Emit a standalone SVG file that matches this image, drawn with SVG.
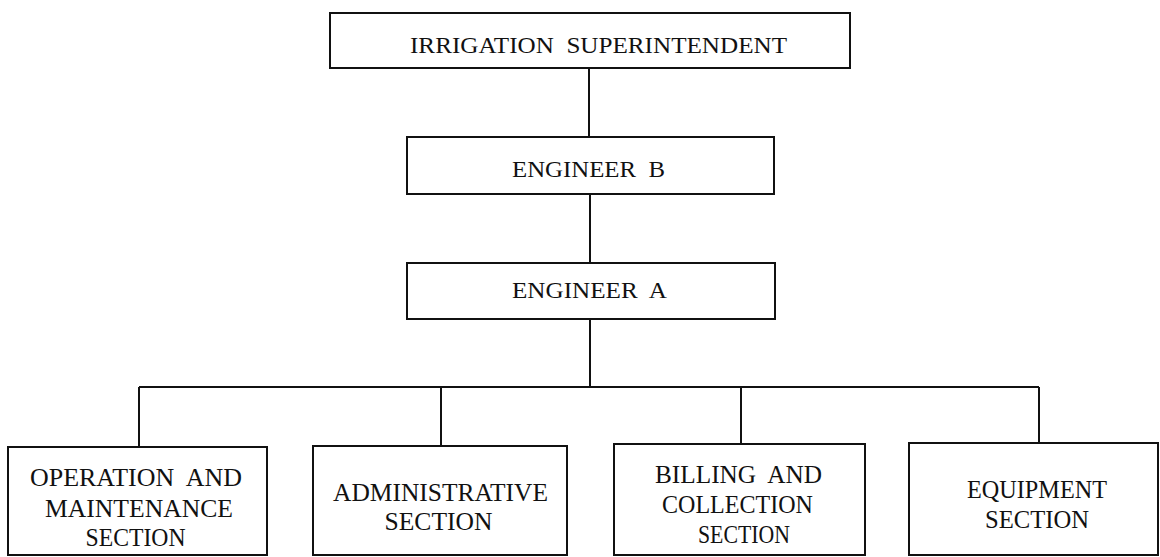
<svg xmlns="http://www.w3.org/2000/svg" width="1160" height="557" viewBox="0 0 1160 557">
<style>
.box{fill:#fff;stroke:#111;stroke-width:2}
.conn{fill:none;stroke:#111;stroke-width:2}
text{font-family:"Liberation Serif","Times New Roman",serif;fill:#111;text-anchor:middle}
.t1{font-size:23.5px}
.t2{font-size:26px}
</style>
<rect width="1160" height="557" fill="#fff"/>
<g id="connectors">
<path class="conn" d="M589 68V137M590 194V263M590 319V387M139 387H1039M139 387V447M441 387V446M741 387V444M1039 387V443"/>
</g>
<g id="irrigation-superintendent">
<rect class="box" x="330" y="13" width="520" height="55"/>
<text class="t1" x="598.5" y="53" textLength="377" lengthAdjust="spacingAndGlyphs">IRRIGATION&#160; SUPERINTENDENT</text>
</g>
<g id="engineer-b">
<rect class="box" x="407" y="137" width="367" height="57"/>
<text class="t1" x="588.5" y="177" textLength="153" lengthAdjust="spacingAndGlyphs">ENGINEER&#160; B</text>
</g>
<g id="engineer-a">
<rect class="box" x="407" y="263" width="368" height="56"/>
<text class="t1" x="589.5" y="298" textLength="155" lengthAdjust="spacingAndGlyphs">ENGINEER&#160; A</text>
</g>
<g id="operation-maintenance">
<rect class="box" x="8" y="447" width="259" height="108"/>
<text class="t2" x="136" y="486" textLength="212" lengthAdjust="spacingAndGlyphs">OPERATION&#160; AND</text>
<text class="t2" x="139" y="517" textLength="188" lengthAdjust="spacingAndGlyphs">MAINTENANCE</text>
<text class="t2" x="135.5" y="546" textLength="100" lengthAdjust="spacingAndGlyphs">SECTION</text>
</g>
<g id="administrative">
<rect class="box" x="313" y="446" width="254" height="109"/>
<text class="t2" x="440.5" y="501" textLength="215" lengthAdjust="spacingAndGlyphs">ADMINISTRATIVE</text>
<text class="t2" x="438.5" y="530" textLength="108" lengthAdjust="spacingAndGlyphs">SECTION</text>
</g>
<g id="billing-collection">
<rect class="box" x="614" y="444" width="251" height="111"/>
<text class="t2" x="738.5" y="483" textLength="167" lengthAdjust="spacingAndGlyphs">BILLING&#160; AND</text>
<text class="t2" x="737.5" y="513" textLength="151" lengthAdjust="spacingAndGlyphs">COLLECTION</text>
<text class="t2" x="744" y="543" textLength="92" lengthAdjust="spacingAndGlyphs">SECTION</text>
</g>
<g id="equipment">
<rect class="box" x="909" y="443" width="249" height="112"/>
<text class="t2" x="1037" y="498" textLength="140" lengthAdjust="spacingAndGlyphs">EQUIPMENT</text>
<text class="t2" x="1037" y="528" textLength="104" lengthAdjust="spacingAndGlyphs">SECTION</text>
</g>
</svg>
